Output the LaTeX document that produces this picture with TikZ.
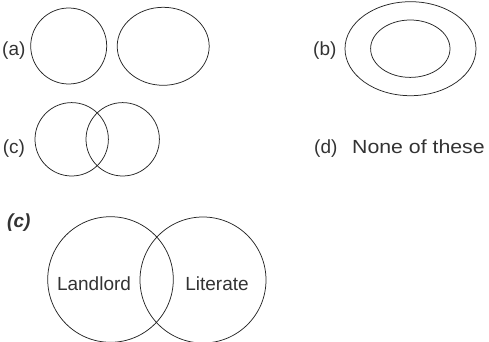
\documentclass[tikz,border=0pt]{standalone}
\usepackage{fontspec}
\setmainfont{Liberation Sans}
\begin{document}
\begin{tikzpicture}[x=1pt,y=-1pt,
  shape line/.style={draw=black!85,line width=0.75pt},
  lbl/.style={inner sep=0pt,anchor=base west,font=\fontsize{19}{22}\selectfont,text=black!80},
  venn/.style={inner sep=0pt,anchor=base,font=\fontsize{19}{22}\selectfont,text=black!80}]
\clip (0,0) rectangle (489,342);
\useasboundingbox (0,0) rectangle (489,342);
% (a)
\node[lbl] (la) at (2,56) {(a)};
\draw[shape line] (68.7,46) ellipse [x radius=38, y radius=38];
\draw[shape line] (163.2,46.3) ellipse [x radius=46, y radius=39];
% (b)
\node[lbl] (lb) at (313,55.5) {(b)};
\draw[shape line] (410.5,48.7) ellipse [x radius=65.5, y radius=47];
\draw[shape line] (410.3,48.7) ellipse [x radius=39.7, y radius=28.7];
% (c)
\node[lbl] (lc) at (2.7,153) {(c)};
\draw[shape line] (71.7,139.3) circle [radius=36.7];
\draw[shape line] (122.7,139.3) circle [radius=36.7];
% (d)
\node[lbl] (ld) at (314,153.3) {(d)};
\node[lbl] (none) at (352,153.3) {\scalebox{1.12}[1]{None of these}};
% answer
\node[lbl,font=\fontsize{19}{22}\selectfont\bfseries\itshape] (ans) at (7,227.5) {(c)};
\draw[shape line] (110.5,279.5) circle [radius=62.8];
\draw[shape line] (203,280) circle [radius=63];
\node[venn] (land) at (94,290.7) {Landlord};
\node[venn] (lit) at (217,290.7) {Literate};
\end{tikzpicture}
\end{document}
